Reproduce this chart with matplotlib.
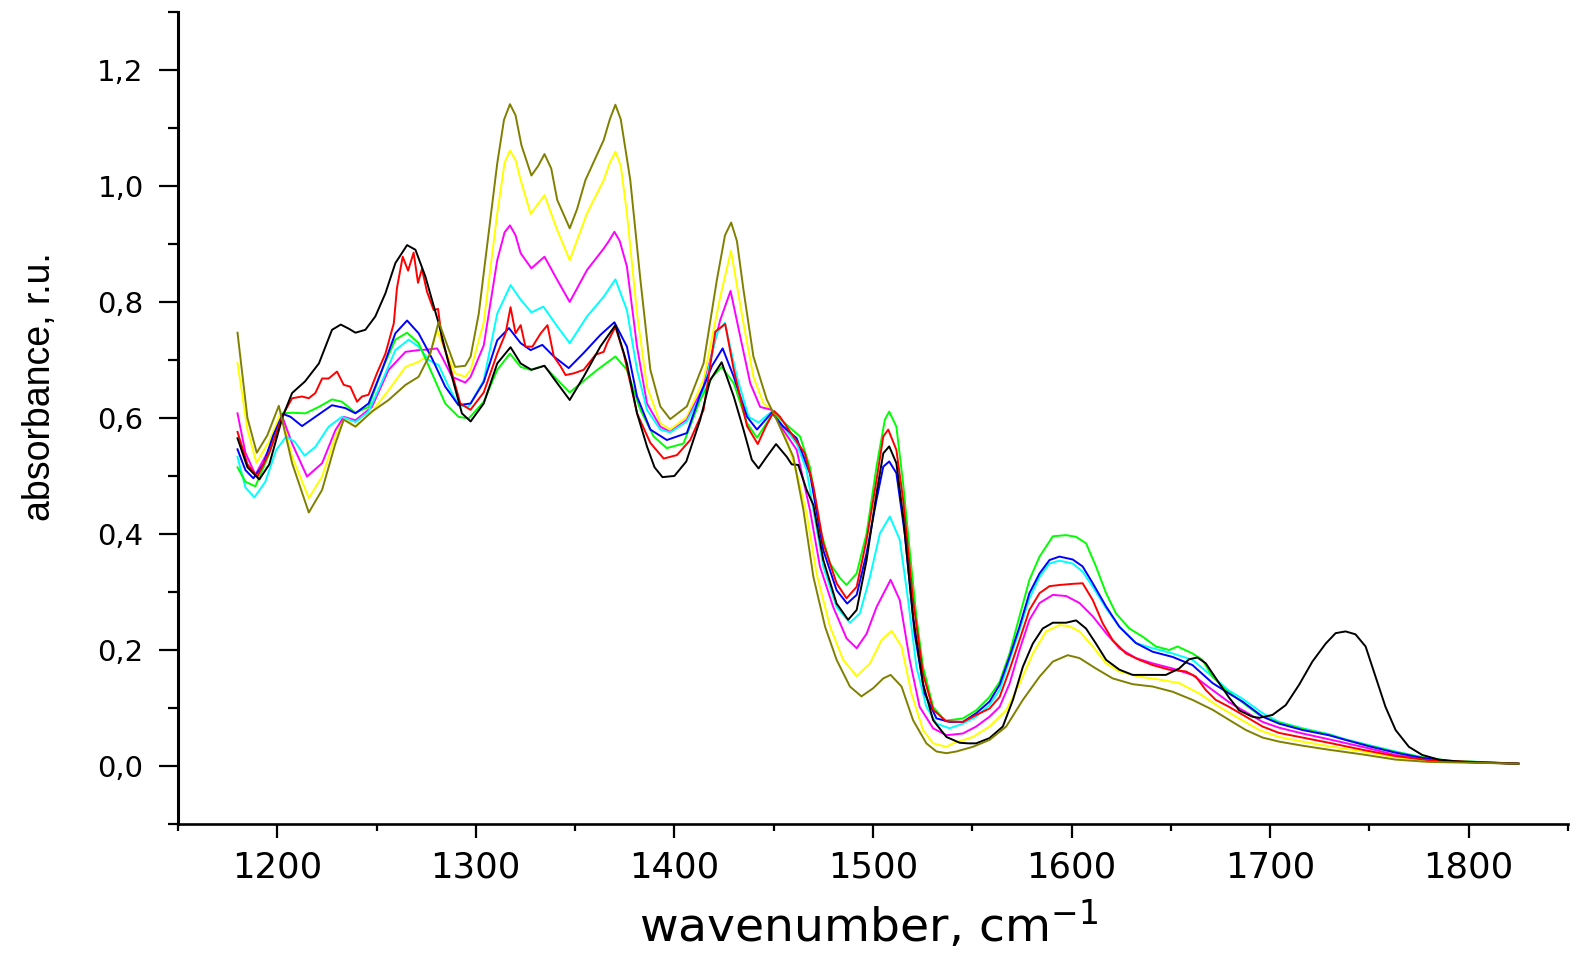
import numpy as np
import matplotlib
matplotlib.use("Agg")
import matplotlib.pyplot as plt
from matplotlib.ticker import MultipleLocator, FuncFormatter

# spectra: wavenumber (cm-1) and absorbance (r.u.)
wn_black = [1180, 1185, 1191, 1196, 1202.8, 1207.5, 1214, 1221, 1227.6, 1232, 1236, 1239.4, 1244.4, 1249.4,
            1254.5, 1259.5, 1265.4, 1269.6, 1274.6, 1281.3, 1288, 1293, 1297.4, 1304, 1310.8, 1317.5, 1322.6,
            1328, 1334.6, 1341, 1347.3, 1354.3, 1362.7, 1370.3, 1376.1, 1381.2, 1386.2, 1390, 1394, 1400,
            1406, 1413, 1418, 1423.8, 1429.9, 1434.8, 1439, 1442.4, 1446.5, 1451.2, 1456.6, 1459.1, 1462.4,
            1466.6, 1470, 1475, 1481.7, 1487.5, 1491.8, 1496.8, 1501.8, 1505.2, 1508.2, 1511.8, 1515.2,
            1520.2, 1525.2, 1530.3, 1537, 1543.7, 1548, 1552, 1558.7, 1565.4, 1570.5, 1575.5, 1580.5,
            1585.5, 1590.6, 1597.3, 1602.3, 1607.3, 1612.3, 1617.4, 1624.1, 1630.8, 1639.1, 1647.5, 1654.2,
            1659.2, 1663.4, 1667.6, 1674.3, 1679.3, 1684.4, 1691, 1694.5, 1701.2, 1707.9, 1714.6, 1721.3,
            1728, 1733, 1738, 1743, 1748.1, 1753.1, 1758.1, 1763.2, 1769.9, 1776.6, 1784.9, 1796.7, 1813.4,
            1825]
ab_black = [0.565, 0.515, 0.494, 0.52, 0.603, 0.643, 0.663, 0.694, 0.752, 0.761, 0.754, 0.747, 0.752, 0.775,
            0.815, 0.867, 0.898, 0.890, 0.844, 0.763, 0.671, 0.608, 0.594, 0.625, 0.694, 0.722, 0.694,
            0.683, 0.690, 0.660, 0.631, 0.671, 0.723, 0.760, 0.694, 0.608, 0.551, 0.515, 0.498, 0.500,
            0.525, 0.597, 0.665, 0.696, 0.637, 0.580, 0.528, 0.513, 0.533, 0.555, 0.533, 0.520, 0.519,
            0.476, 0.45, 0.355, 0.280, 0.252, 0.269, 0.355, 0.470, 0.539, 0.551, 0.522, 0.430,
            0.257, 0.142, 0.079, 0.050, 0.040, 0.039, 0.039, 0.048, 0.068, 0.114, 0.171, 0.211,
            0.237, 0.247, 0.247, 0.251, 0.237, 0.211, 0.183, 0.166, 0.157, 0.157, 0.157, 0.168,
            0.184, 0.187, 0.177, 0.143, 0.118, 0.096, 0.085, 0.083, 0.088, 0.105, 0.140, 0.180,
            0.211, 0.229, 0.232, 0.227, 0.206, 0.154, 0.102, 0.062, 0.033, 0.019, 0.011, 0.007, 0.005,
            0.004]

wn_red = [1180, 1185, 1190, 1196, 1202.8, 1207.5, 1212.5, 1215.9, 1219.2, 1222.6, 1225.9, 1230.1, 1233.5,
          1236.8, 1240.2, 1242.7, 1246, 1250.2, 1254.5, 1258.7, 1260.3, 1263.2, 1265.9, 1268.7, 1270.9,
          1272.9, 1275.4, 1278.8, 1281, 1283, 1288, 1292.2, 1297.3, 1304, 1310.8, 1315, 1317.5, 1320,
          1322.6, 1325, 1328.5, 1332.7, 1336.1, 1339.3, 1342.7, 1345.2, 1349.4, 1354.3, 1360.3, 1364.4,
          1366.1, 1370.3, 1374.5, 1381.2, 1387.9, 1394.6, 1401.3, 1408, 1414.7, 1420.6, 1425.6, 1429.9,
          1436.6, 1442, 1446, 1450.2, 1453.2, 1459.9, 1465.7, 1470, 1475, 1481.7, 1486.7, 1491.8, 1496.8,
          1501.8, 1505.2, 1507.7, 1511.8, 1515.2, 1520.2, 1525.2, 1530.3, 1537, 1545.3, 1552, 1558.7,
          1563.8, 1568.8, 1573.8, 1578.8, 1583.9, 1588.9, 1593.9, 1600.6, 1605.6, 1610.7, 1615.7, 1620.7,
          1627.4, 1634.1, 1640.8, 1649.2, 1657.6, 1662.6, 1667.6, 1672.6, 1679.3, 1687.8, 1696.2, 1704.5,
          1716.3, 1729.6, 1746.4, 1763.2, 1779.9, 1825]
ab_red = [0.576, 0.52, 0.499, 0.54, 0.605, 0.634, 0.637, 0.634, 0.643, 0.668, 0.668, 0.680, 0.657,
          0.654, 0.628, 0.637, 0.640, 0.677, 0.711, 0.763, 0.824, 0.878, 0.854, 0.885, 0.833,
          0.857, 0.818, 0.786, 0.788, 0.735, 0.677, 0.625, 0.614, 0.644, 0.711, 0.746, 0.791, 0.746,
          0.760, 0.723, 0.723, 0.746, 0.760, 0.706, 0.689, 0.674, 0.677, 0.683, 0.709, 0.714,
          0.729, 0.757, 0.711, 0.608, 0.557, 0.530, 0.536, 0.562, 0.614, 0.749, 0.762, 0.683,
          0.586, 0.555, 0.585, 0.612, 0.602, 0.568, 0.539, 0.482, 0.384, 0.315, 0.289, 0.309, 0.390,
          0.493, 0.568, 0.580, 0.545, 0.459, 0.286, 0.159, 0.097, 0.077, 0.076, 0.088, 0.099,
          0.119, 0.166, 0.217, 0.269, 0.298, 0.310, 0.312, 0.314, 0.315, 0.286, 0.246, 0.217,
          0.194, 0.183, 0.174, 0.166, 0.163, 0.154, 0.131, 0.114, 0.102, 0.085, 0.068, 0.057,
          0.049, 0.040, 0.028, 0.017, 0.010, 0.004]

wn_blue = [1180, 1184, 1188, 1193, 1198, 1202.8, 1206.7, 1212.5, 1219.2, 1227.6, 1234.3, 1239.4, 1246,
           1252.8, 1259.5, 1265.4, 1271.2, 1277.9, 1284.6, 1291.3, 1297.4, 1304, 1310.8, 1316.7, 1322.6,
           1327.6, 1333.5, 1339.3, 1346.8, 1354.3, 1362.7, 1369.8, 1376.1, 1381.2, 1387.9, 1396.2, 1406.3,
           1413, 1419, 1424.3, 1429.9, 1436.6, 1441.6, 1449, 1454.9, 1461.6, 1468.3, 1475, 1481.7, 1487,
           1491.8, 1496.8, 1501.8, 1505.2, 1508.2, 1511.8, 1516, 1521, 1526, 1532, 1538.6, 1545.3, 1552,
           1558.7, 1563.8, 1568.8, 1573.8, 1578.8, 1583.9, 1588.9, 1593.9, 1600.6, 1605.6, 1610.7, 1617.4,
           1624.1, 1632.4, 1640.8, 1650.9, 1660.9, 1671, 1679.3, 1686.1, 1696.2, 1704.5, 1716.3, 1729.6,
           1738, 1749.8, 1763.2, 1776.6, 1790, 1825]
ab_blue = [0.546, 0.51, 0.496, 0.52, 0.57, 0.607, 0.602, 0.586, 0.602, 0.622, 0.617, 0.608, 0.625,
           0.683, 0.746, 0.768, 0.746, 0.703, 0.654, 0.622, 0.625, 0.662, 0.734, 0.755, 0.729,
           0.717, 0.726, 0.706, 0.686, 0.712, 0.743, 0.765, 0.723, 0.637, 0.580, 0.562, 0.574,
           0.640, 0.69, 0.720, 0.671, 0.602, 0.580, 0.609, 0.585, 0.565, 0.504, 0.372, 0.303, 0.280,
           0.295, 0.367, 0.459, 0.516, 0.525, 0.505, 0.401, 0.228, 0.125, 0.082, 0.076, 0.076, 0.091,
           0.111, 0.140, 0.188, 0.240, 0.298, 0.332, 0.355, 0.361, 0.356, 0.344, 0.315, 0.275,
           0.240, 0.212, 0.197, 0.188, 0.174, 0.143, 0.125, 0.111, 0.085, 0.073, 0.062, 0.053,
           0.045, 0.034, 0.023, 0.014, 0.008, 0.004]

wn_cyan = [1180, 1184, 1188.5, 1194, 1199.5, 1204.5, 1208.8, 1213.8, 1219.2, 1225.9, 1232.6, 1239.4, 1246,
           1252.8, 1259.5, 1266.2, 1271.2, 1276.3, 1281.3, 1286.3, 1291.3, 1296.4, 1304, 1310.8, 1317.5,
           1322.6, 1328, 1334, 1341, 1347.3, 1356, 1364.4, 1370.3, 1376.1, 1381.2, 1386.2, 1392.9, 1397.9,
           1406.3, 1414.7, 1421.4, 1425.4, 1431.5, 1437.4, 1442.4, 1449, 1454.9, 1461.6, 1466.6, 1469.1,
           1475, 1481.7, 1488.4, 1493.4, 1498.5, 1503.5, 1508.5, 1513.5, 1517.7, 1521.9, 1526.9, 1532,
           1538.6, 1545.3, 1552, 1558.7, 1563.8, 1568.8, 1573.8, 1578.8, 1583.9, 1588.9, 1593.9, 1600.6,
           1605.6, 1610.7, 1617.4, 1624.1, 1632.4, 1640.8, 1650.9, 1660.9, 1671, 1679.3, 1686.1, 1696.2,
           1704.5, 1716.3, 1729.6, 1738, 1749.8, 1763.2, 1776.6, 1790, 1805, 1825]
ab_cyan = [0.533, 0.48, 0.463, 0.49, 0.545, 0.568, 0.559, 0.535, 0.550, 0.585, 0.602, 0.593, 0.611,
           0.663, 0.717, 0.735, 0.723, 0.700, 0.691, 0.654, 0.622, 0.619, 0.665, 0.780, 0.829,
           0.804, 0.782, 0.792, 0.758, 0.729, 0.775, 0.809, 0.839, 0.786, 0.683, 0.614, 0.580, 0.575,
           0.594, 0.648, 0.746, 0.764, 0.671, 0.602, 0.592, 0.611, 0.585, 0.556, 0.510, 0.459,
           0.344, 0.274, 0.247, 0.263, 0.326, 0.401, 0.430, 0.390, 0.286, 0.171, 0.102, 0.073,
           0.065, 0.073, 0.085, 0.105, 0.131, 0.183, 0.234, 0.289, 0.326, 0.349, 0.354, 0.349,
           0.335, 0.309, 0.272, 0.240, 0.212, 0.203, 0.194, 0.183, 0.154, 0.130, 0.116, 0.091,
           0.076, 0.065, 0.055, 0.046, 0.036, 0.025, 0.015, 0.009, 0.007, 0.004]

wn_magenta = [1180, 1184, 1189, 1195, 1202.8, 1207.5, 1215, 1222.6, 1229.3, 1233.5, 1239.4, 1247.7, 1256.1,
              1264.6, 1271.2, 1276.3, 1280.5, 1283, 1288, 1294.7, 1297.4, 1304, 1310.8, 1314.5, 1317.2,
              1320, 1322.6, 1328, 1334.6, 1341, 1347.3, 1356, 1364.4, 1367, 1369.8, 1372.5, 1376.1, 1381.2,
              1386.2, 1392.9, 1397.9, 1406.3, 1414.7, 1423.1, 1428.3, 1433.2, 1438.2, 1443.2, 1449, 1454.9,
              1461.6, 1468.3, 1473.3, 1480, 1486.7, 1491.8, 1496.8, 1501.8, 1508.9, 1513.5, 1518.5, 1523.5,
              1530.3, 1537, 1545.3, 1552, 1558.7, 1563.8, 1568.8, 1573.8, 1578.8, 1583.9, 1590.6, 1597.3,
              1604, 1610.7, 1617.4, 1624.1, 1632.4, 1640.8, 1650.9, 1660.9, 1671, 1679.3, 1687.8, 1696.2,
              1704.5, 1716.3, 1729.6, 1746.4, 1763.2, 1779.9, 1796.7, 1825]
ab_magenta = [0.608, 0.54, 0.502, 0.54, 0.600, 0.556, 0.499, 0.522, 0.579, 0.602, 0.596, 0.619, 0.683,
              0.714, 0.717, 0.718, 0.720, 0.705, 0.671, 0.661, 0.671, 0.725, 0.872, 0.920, 0.932,
              0.915, 0.884, 0.858, 0.878, 0.838, 0.800, 0.855, 0.892, 0.905, 0.921, 0.905, 0.861, 0.723,
              0.625, 0.585, 0.576, 0.597, 0.654, 0.769, 0.819, 0.740, 0.660, 0.619, 0.614, 0.579,
              0.545, 0.441, 0.344, 0.274, 0.220, 0.203, 0.228, 0.274, 0.321, 0.286, 0.183, 0.102,
              0.065, 0.053, 0.056, 0.068, 0.085, 0.102, 0.142, 0.200, 0.252, 0.281, 0.295, 0.293,
              0.281, 0.258, 0.229, 0.203, 0.186, 0.177, 0.168, 0.157, 0.131, 0.110, 0.093, 0.076,
              0.066, 0.056, 0.046, 0.033, 0.019, 0.011, 0.007, 0.004]

wn_yellow = [1180, 1185, 1189.5, 1196, 1202, 1207.5, 1215.9, 1222.6, 1229.3, 1233.5, 1239.4, 1247.7, 1256.1,
             1264.6, 1271.2, 1277.1, 1280.5, 1283, 1289.6, 1294.7, 1297.4, 1304, 1310.8, 1314.5, 1317.2,
             1320, 1322.6, 1327.6, 1334.6, 1341, 1347.3, 1356, 1364.4, 1367.5, 1370.3, 1373, 1376.1, 1381.2,
             1386.2, 1392.9, 1397.9, 1406.3, 1414.7, 1423.1, 1428.5, 1434.8, 1439.8, 1444.9, 1449.9, 1456.6,
             1462, 1466.6, 1471.6, 1478.4, 1485, 1491.8, 1498.5, 1504.3, 1509.4, 1514.4, 1519.4, 1525.2,
             1530.3, 1537, 1540.3, 1550.3, 1558.7, 1567.1, 1573.8, 1580.5, 1587.2, 1593.9, 1598.9, 1604,
             1610.7, 1617.4, 1624.1, 1634.1, 1644.2, 1654.2, 1664.3, 1674.3, 1684.4, 1694.5, 1704.5, 1716.3,
             1729.6, 1746.4, 1763.2, 1779.9, 1825]
ab_yellow = [0.695, 0.58, 0.523, 0.56, 0.611, 0.533, 0.462, 0.499, 0.568, 0.600, 0.585, 0.611, 0.648,
             0.688, 0.697, 0.711, 0.752, 0.729, 0.677, 0.671, 0.683, 0.765, 0.953, 1.040, 1.061,
             1.045, 1.010, 0.952, 0.984, 0.924, 0.872, 0.953, 1.010, 1.040, 1.059, 1.035, 0.953, 0.780,
             0.654, 0.591, 0.580, 0.602, 0.666, 0.809, 0.888, 0.763, 0.671, 0.625, 0.611, 0.562,
             0.50, 0.435, 0.332, 0.240, 0.183, 0.155, 0.177, 0.217, 0.233, 0.206, 0.125, 0.062,
             0.039, 0.033, 0.039, 0.050, 0.068, 0.096, 0.142, 0.194, 0.232, 0.243, 0.241, 0.232,
             0.206, 0.177, 0.163, 0.154, 0.149, 0.143, 0.125, 0.102, 0.082, 0.062, 0.050, 0.042,
             0.034, 0.025, 0.015, 0.009, 0.004]

wn_olive = [1180, 1185, 1189.7, 1195, 1200.8, 1207.5, 1215.9, 1222.6, 1229.3, 1233.5, 1239.4, 1247.7, 1256.1,
            1264.6, 1271.2, 1277.1, 1281.3, 1284.6, 1289.6, 1294.7, 1297.4, 1301.5, 1304, 1310.8, 1314.2,
            1317.2, 1320, 1323, 1328, 1331.5, 1334.6, 1338, 1341, 1347.3, 1351, 1355.2, 1364.4, 1367.5,
            1370.3, 1373, 1377.8, 1382.9, 1387.9, 1392.9, 1397.9, 1406.3, 1414.7, 1421.4, 1425.5, 1428.6,
            1431.5, 1434.8, 1439.8, 1446.5, 1451.5, 1459.9, 1465, 1470, 1475.9, 1481.7, 1488.4, 1494.2,
            1500.1, 1505.2, 1508.9, 1514.4, 1520.2, 1526.9, 1532, 1537, 1542, 1550.3, 1558.7, 1567.1,
            1575.5, 1583.9, 1590.6, 1598.1, 1604, 1612.3, 1620.7, 1630.8, 1640.8, 1650.9, 1660.9, 1671,
            1681, 1687.8, 1696.2, 1704.5, 1716.3, 1729.6, 1746.4, 1763.2, 1779.9, 1825]
ab_olive = [0.747, 0.60, 0.540, 0.57, 0.621, 0.522, 0.437, 0.476, 0.556, 0.597, 0.585, 0.611, 0.631,
            0.657, 0.671, 0.711, 0.766, 0.735, 0.688, 0.690, 0.706, 0.780, 0.850, 1.039, 1.114,
            1.141, 1.122, 1.07, 1.018, 1.035, 1.055, 1.03, 0.976, 0.927, 0.96, 1.010, 1.079, 1.115,
            1.140, 1.115, 1.010, 0.838, 0.683, 0.620, 0.598, 0.620, 0.694, 0.838, 0.915, 0.937,
            0.905, 0.821, 0.706, 0.632, 0.597, 0.533, 0.441, 0.326, 0.240, 0.183, 0.137, 0.120,
            0.134, 0.151, 0.157, 0.137, 0.079, 0.039, 0.025, 0.022, 0.025, 0.033, 0.045, 0.068,
            0.114, 0.154, 0.180, 0.191, 0.186, 0.168, 0.151, 0.141, 0.137, 0.128, 0.114, 0.097,
            0.076, 0.062, 0.049, 0.042, 0.035, 0.028, 0.020, 0.011, 0.007, 0.004]

wn_green = [1180, 1184, 1189, 1195, 1202.8, 1207.5, 1214.2, 1220.9, 1227.6, 1232.6, 1239.4, 1246, 1252.8,
            1259.5, 1265.4, 1271.2, 1277.9, 1284.6, 1291.3, 1296.4, 1304, 1310.8, 1317.2, 1322.6, 1327.6,
            1334.3, 1341, 1347.3, 1354, 1361.2, 1370.3, 1376.1, 1382.9, 1389.6, 1396.2, 1404.6, 1413, 1419,
            1423.8, 1429.9, 1436.6, 1441.6, 1449.9, 1456.6, 1463.3, 1468.3, 1473.3, 1478.4, 1483.4, 1486.7,
            1491.8, 1496.8, 1501.8, 1506, 1508.2, 1511.8, 1515.2, 1518.5, 1521.9, 1525.2, 1530.3, 1536.1,
            1545.3, 1552, 1558.7, 1563.8, 1568.8, 1573.8, 1578.8, 1583.9, 1590.6, 1597.3, 1602.3, 1607.3,
            1612.3, 1617.4, 1622.4, 1629.1, 1635.8, 1642.5, 1649.2, 1653.4, 1660.9, 1665.9, 1671, 1677.7,
            1684.4, 1694.4, 1704.5, 1716.3, 1729.6, 1738, 1749.8, 1763.2, 1776.6, 1790, 1825]
ab_green = [0.515, 0.49, 0.482, 0.53, 0.608, 0.609, 0.608, 0.619, 0.632, 0.628, 0.609, 0.619, 0.683,
            0.735, 0.747, 0.729, 0.677, 0.625, 0.602, 0.599, 0.628, 0.683, 0.711, 0.688, 0.683,
            0.690, 0.666, 0.644, 0.663, 0.683, 0.706, 0.683, 0.614, 0.568, 0.548, 0.556, 0.631, 0.67,
            0.688, 0.660, 0.591, 0.566, 0.609, 0.588, 0.568, 0.515, 0.41, 0.349, 0.324, 0.312,
            0.332, 0.401, 0.516, 0.597, 0.611, 0.585, 0.487, 0.372, 0.257, 0.171, 0.102, 0.078,
            0.082, 0.096, 0.119, 0.145, 0.194, 0.258, 0.321, 0.361, 0.396, 0.398, 0.395, 0.384,
            0.344, 0.298, 0.263, 0.237, 0.223, 0.206, 0.200, 0.206, 0.194, 0.183, 0.154, 0.131,
            0.114, 0.088, 0.075, 0.064, 0.054, 0.045, 0.035, 0.024, 0.015, 0.009, 0.004]

series = [
    (wn_yellow, ab_yellow, "#ffff00"),
    (wn_magenta, ab_magenta, "#ff00ff"),
    (wn_cyan, ab_cyan, "#00ffff"),
    (wn_green, ab_green, "#00ff00"),
    (wn_blue, ab_blue, "#0000ff"),
    (wn_red, ab_red, "#ff0000"),
    (wn_black, ab_black, "#000000"),
    (wn_olive, ab_olive, "#808000"),
]

fig = plt.figure(figsize=(15.83, 9.56), dpi=100)
ax = fig.add_axes([0.1124, 0.1381, 0.8781, 0.8494])

for wn, ab, col in series:
    ax.plot(wn, ab, color=col, lw=1.4, solid_joinstyle="round")

ax.set_xlim(1150, 1850)
ax.set_ylim(-0.1, 1.3)

ax.xaxis.set_major_locator(MultipleLocator(100))
ax.xaxis.set_minor_locator(MultipleLocator(50))
ax.yaxis.set_major_locator(MultipleLocator(0.2))
ax.yaxis.set_minor_locator(MultipleLocator(0.1))
ax.yaxis.set_major_formatter(FuncFormatter(lambda v, p: f"{v:.1f}".replace(".", ",")))

for s in ["top", "right"]:
    ax.spines[s].set_visible(False)
ax.spines["left"].set_linewidth(2.2)
ax.spines["bottom"].set_linewidth(1.9)

ax.tick_params(axis="x", which="major", direction="out", length=10, width=1.6, pad=9,
               labelsize=25.5)
ax.tick_params(axis="x", which="minor", direction="out", length=5, width=1.6)
ax.tick_params(axis="y", which="major", direction="out", length=13.7, width=1.6, pad=11,
               labelsize=21)
ax.tick_params(axis="y", which="minor", direction="out", length=7, width=1.6)
for lab in ax.get_xticklabels() + ax.get_yticklabels():
    lab.set_family("DejaVu Sans")

ax.set_xlabel("wavenumber, cm$^{-1}$", fontsize=34, family="DejaVu Sans")
ax.xaxis.set_label_coords(0.497, -0.092)
ax.set_ylabel("absorbance, r.u.", fontsize=27, family="Liberation Sans")
ax.yaxis.set_label_coords(-0.086, 0.539)

fig.savefig("out.png", dpi=100, facecolor="white")
